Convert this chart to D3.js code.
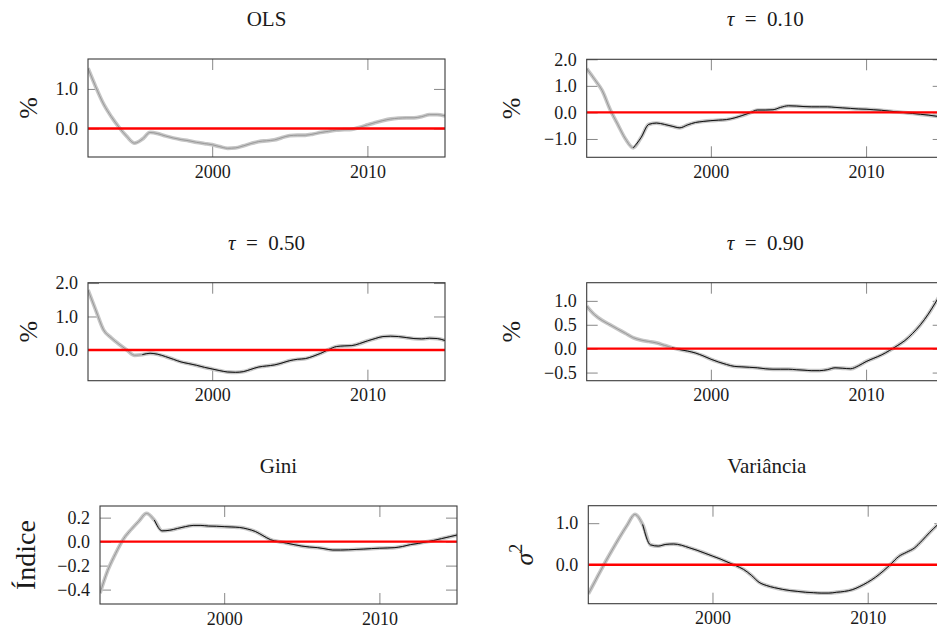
<!DOCTYPE html>
<html>
<head>
<meta charset="utf-8">
<script src="https://cdn.jsdelivr.net/npm/d3@7"></script>
<style>
  body { margin: 0; background: #fff; }
  text { font-family: "Liberation Serif", "DejaVu Serif", serif; fill: #1a1a1a; }
</style>
</head>
<body>
<div id="chart"></div>
<script>
// half-year grid shared by all six panels
const years = [1992, 1992.5, 1993, 1993.5, 1994, 1994.5, 1995, 1995.5, 1996, 1996.5,
    1997, 1997.5, 1998, 1998.5, 1999, 1999.5, 2000, 2000.5, 2001, 2001.5,
    2002, 2002.5, 2003, 2003.5, 2004, 2004.5, 2005, 2005.5, 2006, 2006.5,
    2007, 2007.5, 2008, 2008.5, 2009, 2009.5, 2010, 2010.5, 2011, 2011.5,
    2012, 2012.5, 2013, 2013.5, 2014, 2014.5, 2015];

const olsValues = [1.52, 1.05, 0.62, 0.30, 0.03, -0.20, -0.37, -0.27, -0.10, -0.13,
    -0.19, -0.24, -0.28, -0.31, -0.35, -0.38, -0.41, -0.46, -0.50, -0.49,
    -0.44, -0.38, -0.33, -0.31, -0.29, -0.23, -0.18, -0.17, -0.17, -0.14,
    -0.10, -0.07, -0.04, -0.03, -0.02, 0.03, 0.09, 0.15, 0.20, 0.24,
    0.26, 0.27, 0.27, 0.30, 0.35, 0.35, 0.32];

const q10Values = [1.65, 1.25, 0.82, 0.12, -0.45, -1.00, -1.33, -0.95, -0.45, -0.40,
    -0.45, -0.52, -0.58, -0.47, -0.38, -0.34, -0.31, -0.29, -0.27, -0.21,
    -0.12, -0.02, 0.09, 0.09, 0.10, 0.19, 0.25, 0.24, 0.22, 0.21,
    0.21, 0.21, 0.19, 0.17, 0.15, 0.13, 0.12, 0.10, 0.08, 0.05,
    0.02, -0.01, -0.04, -0.07, -0.10, -0.14, -0.17];

const q50Values = [1.79, 1.19, 0.60, 0.36, 0.17, 0.00, -0.16, -0.14, -0.10, -0.13,
    -0.20, -0.28, -0.36, -0.41, -0.46, -0.52, -0.57, -0.62, -0.66, -0.67,
    -0.65, -0.58, -0.51, -0.48, -0.45, -0.39, -0.32, -0.28, -0.26, -0.19,
    -0.10, 0.01, 0.10, 0.12, 0.13, 0.19, 0.27, 0.34, 0.40, 0.41,
    0.40, 0.37, 0.34, 0.33, 0.35, 0.34, 0.28];

const q90Values = [0.89, 0.71, 0.59, 0.50, 0.41, 0.32, 0.23, 0.18, 0.15, 0.12,
    0.07, 0.02, -0.02, -0.05, -0.09, -0.15, -0.22, -0.28, -0.33, -0.37,
    -0.38, -0.39, -0.40, -0.42, -0.43, -0.43, -0.43, -0.44, -0.45, -0.46,
    -0.46, -0.44, -0.40, -0.41, -0.42, -0.36, -0.27, -0.20, -0.13, -0.04,
    0.06, 0.17, 0.32, 0.50, 0.72, 0.98, 1.25];

const giniValues = [-0.43, -0.24, -0.10, 0.02, 0.10, 0.17, 0.235, 0.18, 0.09, 0.095,
    0.11, 0.125, 0.135, 0.135, 0.13, 0.128, 0.125, 0.122, 0.118, 0.105,
    0.085, 0.05, 0.015, 0.0, -0.012, -0.025, -0.037, -0.045, -0.05, -0.06,
    -0.07, -0.07, -0.068, -0.065, -0.062, -0.058, -0.055, -0.053, -0.05, -0.04,
    -0.025, -0.015, -0.003, 0.01, 0.025, 0.04, 0.055];

const varValues = [-0.70, -0.35, 0.00, 0.33, 0.65, 0.95, 1.21, 0.97, 0.48, 0.45,
    0.49, 0.50, 0.47, 0.41, 0.35, 0.28, 0.21, 0.14, 0.06, -0.02,
    -0.11, -0.25, -0.42, -0.50, -0.55, -0.59, -0.62, -0.64, -0.66, -0.67,
    -0.68, -0.68, -0.66, -0.64, -0.60, -0.52, -0.42, -0.30, -0.15, 0.02,
    0.20, 0.30, 0.40, 0.58, 0.78, 0.96, 1.12];

const xTicks = [2000, 2010];

const panels = [
    { title: "OLS",       tau: null,   ylabel: "%",      values: olsValues,  yDomain: [-0.72, 1.756], yTicks: [0, 1],               blackFrom: null },
    { title: "= 0.10",    tau: "τ",    ylabel: "%",      values: q10Values,  yDomain: [-1.69, 2.0],   yTicks: [-1, 0, 1, 2],        blackFrom: 1995 },
    { title: "= 0.50",    tau: "τ",    ylabel: "%",      values: q50Values,  yDomain: [-0.92, 2.01],  yTicks: [0, 1, 2],            blackFrom: 1995.5 },
    { title: "= 0.90",    tau: "τ",    ylabel: "%",      values: q90Values,  yDomain: [-0.67, 1.38],  yTicks: [-0.5, 0, 0.5, 1],     blackFrom: 1997.5 },
    { title: "Gini",      tau: null,   ylabel: "Índice", values: giniValues, yDomain: [-0.52, 0.297], yTicks: [-0.4, -0.2, 0, 0.2], blackFrom: 1995.5 },
    { title: "Variância", tau: null,   ylabel: "sigma2", values: varValues,  yDomain: [-0.935, 1.42], yTicks: [0, 1],               blackFrom: 1995.5 }
];

// where each axis box sits on the page
const layout = [
    { left: 88,    top: 59,    labelX: 37 },
    { left: 586.7, top: 59.3,  labelX: 520 },
    { left: 88,    top: 282.7, labelX: 37 },
    { left: 586.7, top: 282.7, labelX: 520 },
    { left: 100,   top: 506,   labelX: 35 },
    { left: 588.3, top: 505.7, labelX: 533 }
];

const width = 937, height = 628;
const plotW = 357, plotH = 98, tickLen = 11;

let svg = d3.select("#chart")
    .append("svg")
    .attr("width", width)
    .attr("height", height);

panels.forEach(function(p, i) {
    let pos = layout[i];
    let g = svg.append("g")
        .attr("transform", `translate(${pos.left}, ${pos.top})`);

    let x = d3.scaleLinear().domain([1992, 2015]).range([0, plotW]);
    let y = d3.scaleLinear().domain(p.yDomain).range([plotH, 0]);

    let data = years.map(function(yr, k) { return { year: yr, value: p.values[k] }; });

    g.append("clipPath").attr("id", "clip" + i)
        .append("rect").attr("width", plotW).attr("height", plotH);

    // ticks on all four sides, pointing inward
    let fmt = d3.format(".1f");
    let left = g.append("g")
        .call(d3.axisLeft(y).tickValues(p.yTicks).tickSize(-tickLen).tickPadding(10).tickFormat(fmt));
    let right = g.append("g").attr("transform", `translate(${plotW},0)`)
        .call(d3.axisRight(y).tickValues(p.yTicks).tickSize(-tickLen).tickFormat(""));
    let bottom = g.append("g").attr("transform", `translate(0,${plotH})`)
        .call(d3.axisBottom(x).tickValues(xTicks).tickSize(-tickLen).tickPadding(8).tickFormat(d3.format("d")));
    let top = g.append("g")
        .call(d3.axisTop(x).tickValues(xTicks).tickSize(-tickLen).tickFormat(""));

    [left, right, bottom, top].forEach(function(a) {
        a.select(".domain").remove();
        a.selectAll(".tick line").attr("stroke", "#7a7a7a").attr("stroke-width", 0.9);
        a.selectAll(".tick text")
            .style("font-family", "'Liberation Serif', serif")
            .style("font-size", "18px")
            .attr("fill", "#1a1a1a");
    });

    let plot = g.append("g").attr("clip-path", `url(#clip${i})`);

    let line = d3.line()
        .x(function(d) { return x(d.year); })
        .y(function(d) { return y(d.value); })
        .curve(d3.curveMonotoneX);

    // grey band
    plot.append("path").datum(data)
        .attr("fill", "none")
        .attr("stroke", "#c6c6c6")
        .attr("stroke-width", 3.8)
        .attr("stroke-linejoin", "round")
        .attr("d", line);
    plot.append("path").datum(data)
        .attr("fill", "none")
        .attr("stroke", "#939393")
        .attr("stroke-width", 0.9)
        .attr("d", line);

    if (p.blackFrom != null) {
        plot.append("path").datum(data.filter(function(d) { return d.year >= p.blackFrom; }))
            .attr("fill", "none")
            .attr("stroke", "#111")
            .attr("stroke-width", 1)
            .attr("d", line);
    }

    // zero line
    plot.append("line")
        .attr("x1", 0).attr("x2", plotW)
        .attr("y1", y(0)).attr("y2", y(0))
        .attr("stroke", "#ff0000")
        .attr("stroke-width", 2.4);

    g.append("rect")
        .attr("width", plotW).attr("height", plotH)
        .attr("fill", "none")
        .attr("stroke", "#3a3a3a")
        .attr("stroke-width", 1.1);

    // title (math-style spacing around "=")
    let t = g.append("text")
        .attr("x", plotW / 2)
        .attr("y", -33)
        .style("text-anchor", "middle")
        .style("font-size", "21px");
    if (p.tau) {
        t.append("tspan").style("font-style", "italic").text(p.tau);
        t.append("tspan").text("\u2002" + p.title.replace(" ", "\u2002"));
    } else {
        t.text(p.title);
    }

    // y label
    let yl = svg.append("text")
        .attr("transform", `translate(${pos.labelX}, ${pos.top + plotH / 2})rotate(-90)`)
        .style("text-anchor", "middle");
    if (p.ylabel == "sigma2") {
        yl.style("font-size", "26px");
        yl.append("tspan").style("font-style", "italic").text("σ");
        yl.append("tspan").attr("dy", -11).style("font-size", "18px").text("2");
    } else if (p.ylabel == "Índice") {
        yl.style("font-size", "28px").text(p.ylabel);
    } else {
        yl.style("font-size", "26px").text(p.ylabel);
    }
});
</script>
</body>
</html>
